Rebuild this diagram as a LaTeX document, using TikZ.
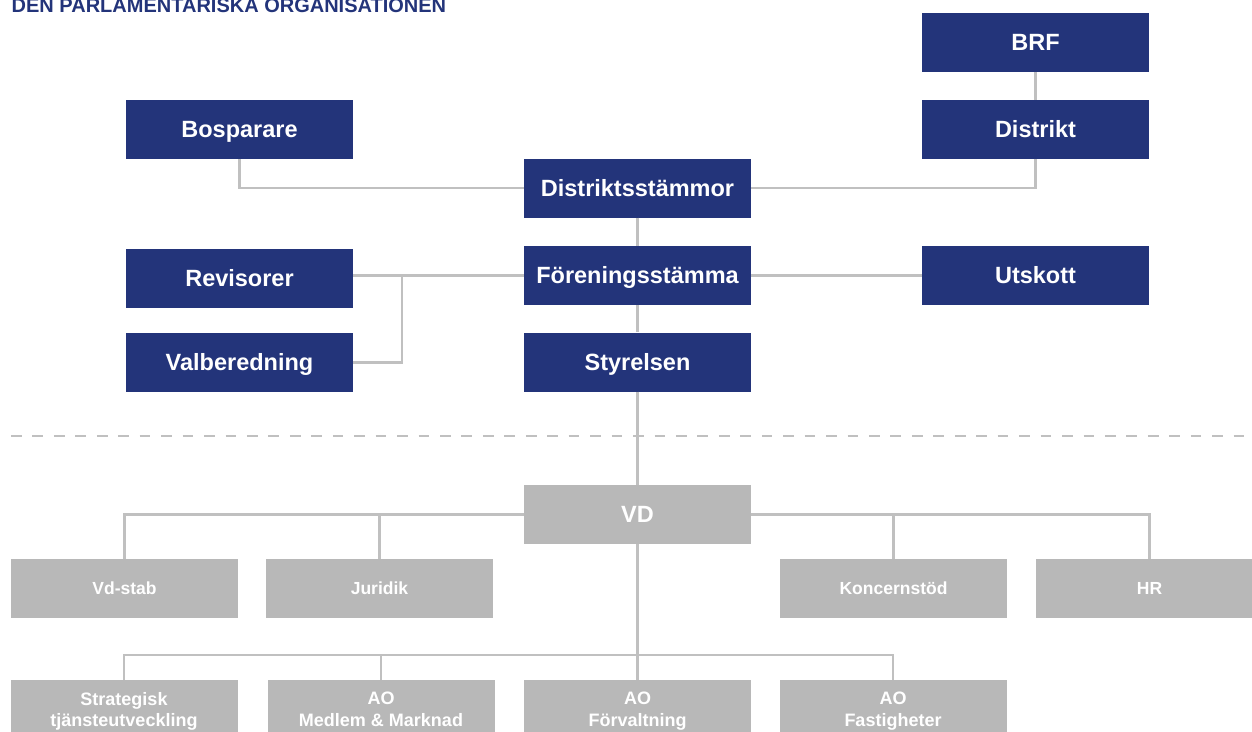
\documentclass[tikz,border=0pt]{standalone}
\usepackage{fontspec}
\setmainfont{Liberation Sans}
\definecolor{navy}{RGB}{35,52,122}
\definecolor{boxgray}{RGB}{184,184,184}
\definecolor{linegray}{RGB}{192,192,192}
\begin{document}
\begin{tikzpicture}[x=1pt,y=-1pt,
  conn/.style={draw=linegray,line width=2.6pt},
  dashline/.style={draw=linegray,line width=2.7pt,dash pattern=on 10.7pt off 10.75pt},
  navybox/.style={fill=navy,text=white,font=\fontsize{23.5}{28}\selectfont\bfseries,
    minimum width=227pt,minimum height=59pt,inner sep=0pt,text height=16.8pt,text depth=0pt},
  graybox/.style={fill=boxgray,text=white,font=\fontsize{17.5}{21}\selectfont\bfseries,
    minimum width=227pt,minimum height=59pt,inner sep=0pt,text height=12.5pt,text depth=0pt},
  vdbox/.style={graybox,font=\fontsize{23.5}{28}\selectfont\bfseries,text height=16.8pt},
  lowbox/.style={fill=boxgray,minimum width=227pt,minimum height=80pt,inner sep=0pt},
  lowtext/.style={text=white,font=\fontsize{18}{21.5}\selectfont\bfseries,align=center,inner sep=0pt,anchor=north},
  titletext/.style={text=navy,font=\fontsize{20}{24}\selectfont\bfseries,inner sep=0pt,anchor=base west}
]
\useasboundingbox (0,0) rectangle (1252,731);
\clip (0,0) rectangle (1252,731);

\node[titletext] (title) at (11.5,12.3) {DEN PARLAMENTARISKA ORGANISATIONEN};

% parliamentary part
\node[navybox] (brf) at (1035.5,42.5) {BRF};
\node[navybox] (distrikt) at (1035.5,129.5) {Distrikt};
\node[navybox] (bosparare) at (239.5,129.5) {Bosparare};
\node[navybox] (dstm) at (637.5,188) {Distriktsstämmor};
\node[navybox] (fst) at (637.5,275.5) {Föreningsstämma};
\node[navybox] (styr) at (637.5,362) {Styrelsen};
\node[navybox] (revisorer) at (239.5,278) {Revisorer};
\node[navybox] (valb) at (239.5,362.5) {Valberedning};
\node[navybox] (utskott) at (1035.5,275.5) {Utskott};

\coordinate (vj) at (402,275.5);
\draw[conn] (brf) -- (distrikt);
\draw[conn] (bosparare.south) |- (dstm.west);
\draw[conn] (distrikt.south) |- (dstm.east);
\draw[conn] (dstm) -- (fst);
\draw[conn] (fst) -- (styr);
\draw[conn] (fst.west) -- (fst.west -| revisorer.east);
\draw[conn] (valb.east) -| (vj);
\draw[conn] (fst) -- (utskott);

% divider
\coordinate (dl) at (11,436);
\coordinate (dr) at (1246,436);
\draw[dashline] (dl) -- (dr);

% operational part
\node[vdbox] (vd) at (637.5,514.5) {VD};
\node[graybox] (vdstab) at (124.5,588.5) {Vd-stab};
\node[graybox] (juridik) at (379.5,588.5) {Juridik};
\node[graybox] (kst) at (893.5,588.5) {Koncernstöd};
\node[graybox] (hr) at (1149.5,588.5) {HR};

\draw[conn] (styr) -- (vd);
\draw[conn] (vd.west) -| (vdstab.north);
\draw[conn] (juridik.north) -- (juridik.north |- vd.west);
\draw[conn] (vd.east) -| (hr.north);
\draw[conn] (kst.north) -- (kst.north |- vd.east);

\node[lowbox] (sti) at (124,720) {};
\node[lowbox] (med) at (381,720) {};
\node[lowbox] (fv) at (637.5,720) {};
\node[lowbox] (fast) at (893,720) {};
\node[lowtext] (stit) at (124,692) {Strategisk\\tjänsteutveckling};
\node[lowtext] (medt) at (381,692) {AO\\Medlem \& Marknad};
\node[lowtext] (fvt) at (637.5,692) {AO\\Förvaltning};
\node[lowtext] (fastt) at (893,692) {AO\\Fastigheter};

\coordinate (bus) at (637.5,655);
\draw[conn] (vd.south) -- (fv.north);
\draw[conn] (sti.north) |- (bus) -| (fast.north);
\draw[conn] (med.north) -- (med.north |- bus);
\end{tikzpicture}
\end{document}
